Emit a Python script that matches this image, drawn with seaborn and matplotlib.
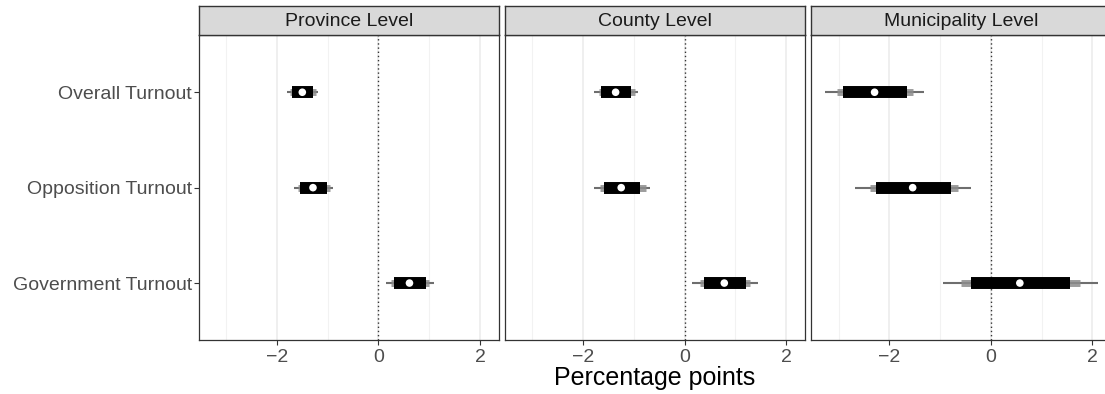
import numpy as np
import pandas as pd
import matplotlib
matplotlib.use("Agg")
import matplotlib.pyplot as plt
import seaborn as sns

# ---------------- data ----------------
levels = ["Province Level", "County Level", "Municipality Level"]
outcomes = ["Overall Turnout", "Opposition Turnout", "Government Turnout"]

# point estimates (percentage points), order follows `outcomes`
est_province = [-1.50, -1.29, 0.61]
est_county = [-1.36, -1.25, 0.78]
est_municipality = [-2.29, -1.54, 0.57]

# widest interval (thin line)
lo_wide_province = [-1.81, -1.67, 0.14]
hi_wide_province = [-1.19, -0.89, 1.10]
lo_wide_county = [-1.79, -1.78, 0.15]
hi_wide_county = [-0.92, -0.69, 1.44]
lo_wide_municipality = [-3.26, -2.67, -0.94]
hi_wide_municipality = [-1.31, -0.39, 2.10]

# middle interval (grey band)
lo_mid_province = [-1.75, -1.59, 0.25]
hi_mid_province = [-1.24, -0.96, 1.00]
lo_mid_county = [-1.69, -1.66, 0.30]
hi_mid_county = [-0.98, -0.76, 1.29]
lo_mid_municipality = [-3.03, -2.39, -0.58]
hi_mid_municipality = [-1.54, -0.65, 1.75]

# narrow interval (black bar)
lo_nar_province = [-1.70, -1.54, 0.30]
hi_nar_province = [-1.29, -1.02, 0.93]
lo_nar_county = [-1.64, -1.59, 0.38]
hi_nar_county = [-1.06, -0.88, 1.21]
lo_nar_municipality = [-2.92, -2.26, -0.39]
hi_nar_municipality = [-1.66, -0.79, 1.56]

x_ticks = [-2, 0, 2]
x_label = "Percentage points"

# ---------------- table ----------------
series = {
    "Province Level": (est_province, lo_wide_province, hi_wide_province,
                       lo_mid_province, hi_mid_province, lo_nar_province, hi_nar_province),
    "County Level": (est_county, lo_wide_county, hi_wide_county,
                     lo_mid_county, hi_mid_county, lo_nar_county, hi_nar_county),
    "Municipality Level": (est_municipality, lo_wide_municipality, hi_wide_municipality,
                           lo_mid_municipality, hi_mid_municipality, lo_nar_municipality,
                           hi_nar_municipality),
}
rows = []
for lev in levels:
    e, lw_, hw_, lm_, hm_, ln_, hn_ = series[lev]
    for i, out in enumerate(outcomes):
        rows.append(dict(level=lev, outcome=out, pos=i, est=e[i],
                         lo_w=lw_[i], hi_w=hw_[i], lo_m=lm_[i], hi_m=hm_[i],
                         lo_n=ln_[i], hi_n=hn_[i]))
df = pd.DataFrame(rows)

# ---------------- style ----------------
sns.set_style("white")
plt.rcParams["font.family"] = ["Liberation Sans", "DejaVu Sans"]

W, H = 1105, 394
DPI = 100


def draw_intervals(data, **kws):
    ax = plt.gca()
    ax.axvline(0, color="#333333", lw=1.0, ls=(0, (1, 2)), zorder=1)
    lc = ax.hlines(data["pos"], data["lo_w"], data["hi_w"], color="#6e6e6e", lw=1.5, zorder=2)
    lc.set_capstyle("butt")
    lc = ax.hlines(data["pos"], data["lo_m"], data["hi_m"], color="#8c8c8c", lw=5.0,
                   alpha=0.85, zorder=3)
    lc.set_capstyle("butt")
    lc = ax.hlines(data["pos"], data["lo_n"], data["hi_n"], color="black", lw=8.6, zorder=4)
    lc.set_capstyle("butt")
    sns.scatterplot(data=data, x="est", y="pos", ax=ax, color="white", s=30,
                    edgecolor="none", zorder=5, legend=False)


g = sns.FacetGrid(df, col="level", col_order=levels, sharex=True, sharey=True,
                  despine=False, height=3.94, aspect=0.93)
g.map_dataframe(draw_intervals)
g.set_titles("")
g.set_axis_labels("", "")

fig = g.figure
fig.set_size_inches(W / DPI, H / DPI)

for j, ax in enumerate(g.axes.flat):
    ax.set_facecolor("white")
    ax.set_xlim(-3.54, 2.365)
    ax.set_ylim(2.6, -0.6)
    ax.set_xticks(x_ticks)
    ax.set_xticks([-3, -1, 1], minor=True)
    ax.set_xticklabels(["\u22122", "0", "2"])
    ax.set_yticks(range(len(outcomes)))
    ax.set_yticklabels(outcomes)
    ax.grid(False)
    ax.grid(True, which="major", axis="x", color="#EBEBEB", lw=1.1, zorder=0)
    ax.grid(True, which="minor", axis="x", color="#F2F2F2", lw=0.8, zorder=0)
    ax.set_axisbelow(True)
    ax.tick_params(axis="x", which="major", length=3.5, width=0.8, color="#333333",
                   labelsize=14, labelcolor="#4D4D4D", pad=2.5, bottom=True)
    ax.tick_params(axis="x", which="minor", length=0)
    if j == 0:
        ax.tick_params(axis="y", length=3.5, width=0.8, color="#333333",
                       labelsize=14, labelcolor="#4D4D4D", pad=1.5, left=True)
    else:
        ax.tick_params(axis="y", length=0, labelleft=False)
    for sp in ax.spines.values():
        sp.set_color("#333333")
        sp.set_linewidth(0.9)
        sp.set_visible(True)

fig.subplots_adjust(left=198.7 / W, right=1111 / W, bottom=1 - 340.3 / H,
                    top=1 - 35 / H, wspace=0.021)

# facet strips
strip_h = 29 / H
for ax, lev in zip(g.axes.flat, levels):
    p = ax.get_position()
    sax = fig.add_axes([p.x0, p.y1, p.width, strip_h])
    sax.set_facecolor("#D9D9D9")
    sax.set_xticks([])
    sax.set_yticks([])
    for sp in sax.spines.values():
        sp.set_color("#333333")
        sp.set_linewidth(1.0)
    sax.text(0.5, 0.47, lev, ha="center", va="center", fontsize=14, color="#1A1A1A",
             transform=sax.transAxes)

p0 = g.axes.flat[0].get_position()
p2 = g.axes.flat[-1].get_position()
fig.text((p0.x0 + p2.x1) / 2, 1 - 378 / H, x_label, ha="center", va="center",
         fontsize=18, color="black")

fig.savefig("out.png", dpi=DPI)
